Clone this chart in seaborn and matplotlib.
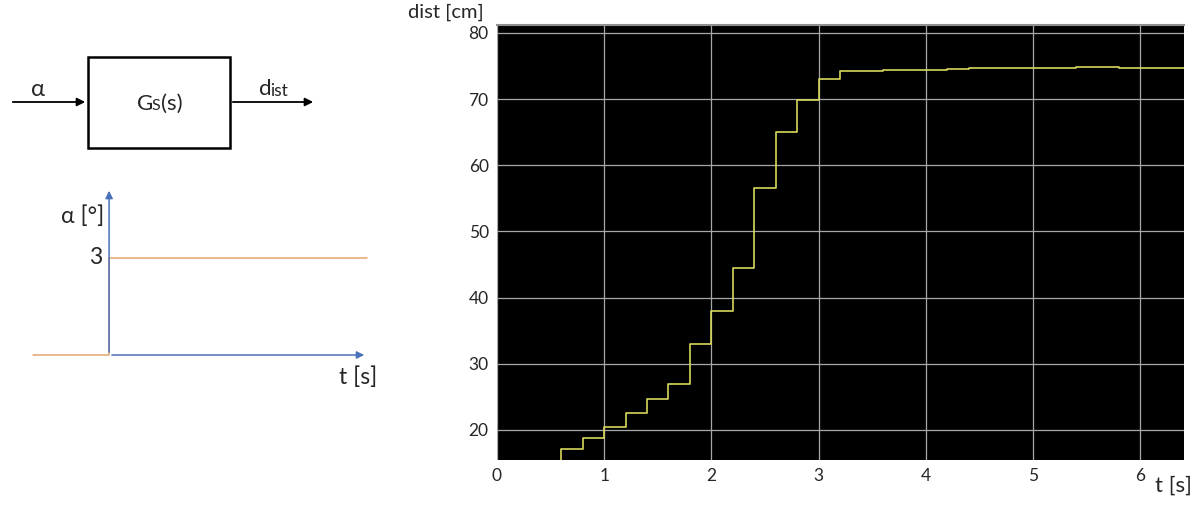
import seaborn as sns
import matplotlib.pyplot as plt
from matplotlib.patches import Rectangle
import pandas as pd

# response of the distance sensor to a 3 degree step
time_s = [0.4, 0.6, 0.8, 1.0, 1.2, 1.4, 1.6, 1.8, 2.0, 2.2, 2.4, 2.6, 2.8,
          3.0, 3.2, 3.6, 3.8, 4.2, 4.4, 5.4, 5.8, 6.5]
dist_cm = [14.5, 17.1, 18.8, 20.5, 22.6, 24.7, 27.0, 33.0, 38.0, 44.5, 56.5,
           65.0, 69.8, 73.0, 74.2, 74.35, 74.45, 74.6, 74.7, 74.9, 74.7, 74.7]

# input step
alpha_t = [-1.0, 0.0, 3.39]
alpha_deg = [0, 3, 3]

x_ticks = [0, 1, 2, 3, 4, 5, 6]
y_ticks = [20, 30, 40, 50, 60, 70, 80]

sns.set_style('white')
plt.rcParams['font.family'] = ['Lato', 'DejaVu Sans']

df = pd.DataFrame({'t': time_s, 'dist': dist_cm})
df_in = pd.DataFrame({'t': alpha_t, 'alpha': alpha_deg})

W, H = 1200, 505
fig = plt.figure(figsize=(12, 5.05), dpi=100)

# ---- block diagram (pixel coordinates) ----
axd = fig.add_axes([0, 0, 400 / W, 1])
axd.set_xlim(0, 400)
axd.set_ylim(H, 0)
axd.axis('off')
axd.add_patch(Rectangle((88, 57), 142, 91, fill=False, lw=1.8, ec='black'))
axd.annotate('', xy=(88, 102), xytext=(10, 102),
             arrowprops=dict(arrowstyle='-|>', color='black', lw=1.3, mutation_scale=12))
axd.annotate('', xy=(316, 102), xytext=(230, 102),
             arrowprops=dict(arrowstyle='-|>', color='black', lw=1.3, mutation_scale=12))
axd.text(38, 90, 'α', fontsize=17, ha='center', va='center')
axd.text(137, 104, 'G', fontsize=16, ha='left', va='center')
axd.text(151, 106, 'S', fontsize=11.5, ha='left', va='center')
axd.text(160.5, 104, '(s)', fontsize=16, ha='left', va='center')
axd.text(259, 89, 'd', fontsize=16, ha='left', va='center')
axd.text(270, 91.5, 'ist', fontsize=12.5, ha='left', va='center')
axd.text(104, 216, 'α [°]', fontsize=16.5, ha='right', va='center')
axd.text(96, 258, '3', fontsize=16.5, ha='center', va='center')
axd.text(358, 377, 't [s]', fontsize=16.5, ha='center', va='center')

# ---- input step ----
axi = fig.add_axes([33 / W, (H - 355) / H, (367 - 33) / W, (355 - 188) / H])
axi.set_xlim(-1.0, 3.39)
axi.set_ylim(0, 5.17)
axi.axis('off')
sns.lineplot(data=df_in, x='t', y='alpha', ax=axi, color='#e3a66c', lw=1.1,
             drawstyle='steps-post', estimator=None, sort=False, clip_on=False)
axi.annotate('', xy=(0, 5.17), xytext=(0, 0),
             arrowprops=dict(arrowstyle='-|>', color='#4a72b8', lw=1.1, mutation_scale=11))
axi.annotate('', xy=(3.39, 0), xytext=(0, 0),
             arrowprops=dict(arrowstyle='-|>', color='#4a72b8', lw=1.1, mutation_scale=11))

# ---- measured response ----
ax = fig.add_axes([497 / W, (H - 460) / H, (1184 - 497) / W, (460 - 25) / H])
ax.set_facecolor('black')
sns.lineplot(data=df, x='t', y='dist', ax=ax, color='#d8d85c', lw=1.2,
             drawstyle='steps-post', estimator=None, sort=False, zorder=3)
ax.set_xlim(0, 6.41)
ax.set_ylim(15.45, 81.2)
ax.set_xticks(x_ticks)
ax.set_yticks(y_ticks)
ax.grid(True, color='#a8a8a8', lw=0.9)
ax.tick_params(length=0, labelsize=12.5, pad=6)
for s in ['left', 'right', 'bottom']:
    ax.spines[s].set_visible(False)
ax.spines['top'].set_color('#909090')
ax.spines['top'].set_linewidth(1.5)
ax.set_xlabel('t [s]', fontsize=16, va='center', ha='center')
ax.xaxis.set_label_coords(0.984, -0.06)
ax.set_ylabel('dist [cm]', fontsize=14.5, rotation=0, va='center', ha='center')
ax.yaxis.set_label_coords(-0.074, 1.03)

fig.savefig('out.png', dpi=100)
